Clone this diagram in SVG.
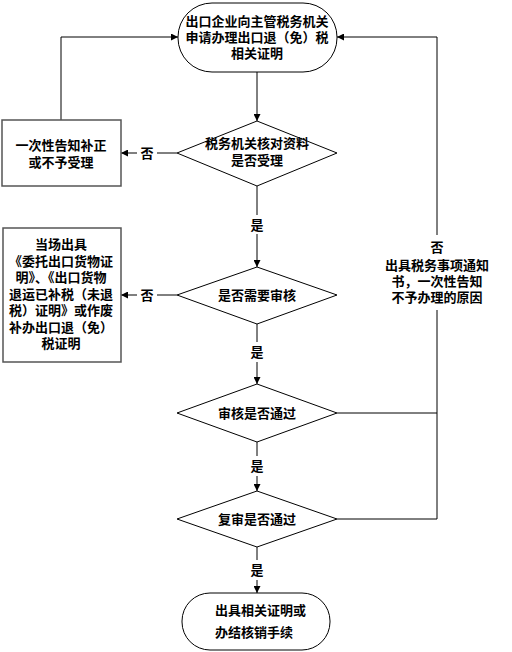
<svg xmlns="http://www.w3.org/2000/svg" width="512" height="652" viewBox="0 0 512 652">
<defs>
<marker id="ah" viewBox="0 0 10 10" refX="10" refY="5" markerWidth="7" markerHeight="7" markerUnits="userSpaceOnUse" orient="auto">
<path d="M0,0 L10,5 L0,10 z" fill="#000"/>
</marker>
<style>
.t{font-family:"Noto Sans CJK SC","Noto Sans CJK JP",sans-serif;font-size:13px;font-weight:bold;fill:#000;text-anchor:middle}
.s{fill:#fff;stroke:#000;stroke-width:1}
.b{fill:#fff;stroke:#555;stroke-width:1.5}
.c{fill:none;stroke:#000;stroke-width:1}
</style>
</defs>
<rect width="512" height="652" fill="#fff"/>
<g id="connectors">
<path class="c" d="M257,72 V121" marker-end="url(#ah)"/>
<path class="c" d="M177,153 H157"/>
<path class="c" d="M137,153 H121" marker-end="url(#ah)"/>
<path class="c" d="M61,120 V37 H178" marker-end="url(#ah)"/>
<path class="c" d="M257,186 V215"/>
<path class="c" d="M257,234 V267" marker-end="url(#ah)"/>
<path class="c" d="M177,295 H157"/>
<path class="c" d="M137,295 H121" marker-end="url(#ah)"/>
<path class="c" d="M257,324 V342"/>
<path class="c" d="M257,362 V384" marker-end="url(#ah)"/>
<path class="c" d="M257,442 V456"/>
<path class="c" d="M257,476 V491" marker-end="url(#ah)"/>
<path class="c" d="M257,547 V560"/>
<path class="c" d="M257,580 V593" marker-end="url(#ah)"/>
<path class="c" d="M337,413 H437"/>
<path class="c" d="M337,519 H437 V310"/>
<path class="c" d="M437,235 V37 H337" marker-end="url(#ah)"/>
<text class="t" x="147" y="158">否</text>
<text class="t" x="147" y="300">否</text>
<text class="t" x="257" y="230">是</text>
<text class="t" x="257" y="357">是</text>
<text class="t" x="257" y="471">是</text>
<text class="t" x="257" y="575">是</text>
<text class="t" x="437" y="252"><tspan x="437">否</tspan><tspan x="437" dy="18">出具税务事项通知</tspan><tspan x="437" dy="16">书，一次性告知</tspan><tspan x="437" dy="16">不予办理的原因</tspan></text>
</g>
<g id="start">
<rect class="s" x="178" y="3" width="159" height="69" rx="34" ry="34"/>
<text class="t" x="257" y="26"><tspan x="257">出口企业向主管税务机关</tspan><tspan x="257" dy="16">申请办理出口退（免）税</tspan><tspan x="257" dy="16">相关证明</tspan></text>
</g>
<g id="d1">
<polygon class="s" points="257,121 337,153 257,186 177,153"/>
<text class="t" x="257" y="148"><tspan x="257">税务机关核对资料</tspan><tspan x="257" dy="17">是否受理</tspan></text>
</g>
<g id="box1">
<rect class="b" x="2" y="120" width="119" height="66"/>
<text class="t" x="61" y="150"><tspan x="61">一次性告知补正</tspan><tspan x="61" dy="17">或不予受理</tspan></text>
</g>
<g id="d2">
<polygon class="s" points="257,267 337,295 257,324 177,295"/>
<text class="t" x="257" y="300">是否需要审核</text>
</g>
<g id="box2">
<rect class="b" x="3" y="228" width="118" height="134"/>
<text class="t" x="61" y="249"><tspan x="61">当场出具</tspan><tspan x="61" dy="16.5">《委托出口货物证</tspan><tspan x="61" dy="16.5">明》、《出口货物</tspan><tspan x="61" dy="16.5">退运已补税（未退</tspan><tspan x="61" dy="16.5">税）证明》或作废</tspan><tspan x="61" dy="16.5">补办出口退（免）</tspan><tspan x="61" dy="16.5">税证明</tspan></text>
</g>
<g id="d3">
<polygon class="s" points="257,384 337,413 257,442 177,413"/>
<text class="t" x="257" y="418">审核是否通过</text>
</g>
<g id="d4">
<polygon class="s" points="257,491 337,519 257,547 177,519"/>
<text class="t" x="257" y="524">复审是否通过</text>
</g>
<g id="end">
<rect class="s" x="182" y="593" width="148" height="57" rx="28" ry="28"/>
<text class="t" x="215" y="615" style="text-anchor:start"><tspan x="215">出具相关证明或</tspan><tspan x="215" dy="22">办结核销手续</tspan></text>
</g>
</svg>
